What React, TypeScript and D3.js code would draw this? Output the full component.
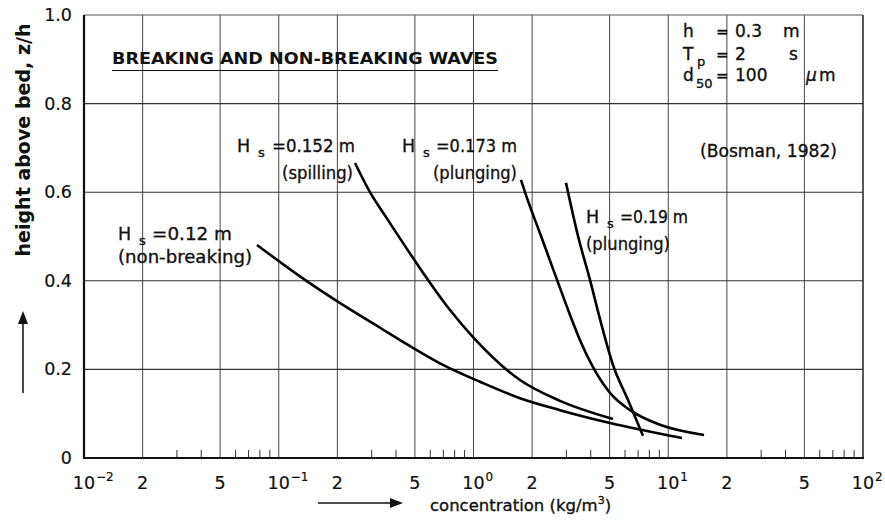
import React from "react";
import * as d3 from "d3";

// ---- data (concentration kg/m3, relative height z/h) ----
const concA = [0.0773, 0.1364, 0.1991, 0.3311, 0.5006, 0.6971, 1.080, 1.733, 2.781, 5.022, 11.77];
const zA = [0.481, 0.402, 0.354, 0.294, 0.246, 0.210, 0.172, 0.135, 0.108, 0.079, 0.045];

const concB = [0.2463, 0.2941, 0.3639, 0.5006, 0.5841, 0.7575, 0.994, 1.733, 2.781, 5.204];
const zB = [0.666, 0.600, 0.537, 0.445, 0.402, 0.334, 0.273, 0.176, 0.129, 0.088];

const concC = [1.753, 1.838, 2.222, 2.685, 3.130, 3.523, 4.108, 5.022, 6.364, 9.07, 15.27];
const zC = [0.628, 0.600, 0.501, 0.402, 0.323, 0.266, 0.205, 0.147, 0.108, 0.075, 0.052];

const concD = [2.985, 3.441, 3.964, 4.515, 5.204, 6.215, 7.419];
const zD = [0.621, 0.501, 0.402, 0.305, 0.210, 0.131, 0.050];

const decadeTicks = [0.01, 0.1, 1, 10, 100];
const decadeExponents = ["\u22122", "\u22121", "0", "1", "2"];
const labeledMinor = [0.02, 0.05, 0.2, 0.5, 2, 5, 20, 50];
const labeledMinorText = ["2", "5", "2", "5", "2", "5", "2", "5"];
const minorMultipliers = [3, 4, 6, 7, 8, 9];
const yTicks = [0, 0.2, 0.4, 0.6, 0.8, 1.0];
const yTickLabels = ["0", "0.2", "0.4", "0.6", "0.8", "1.0"];

const FONT = "'DejaVu Sans', 'Liberation Sans', Arial, sans-serif";
const INK = "#111";

export default function App() {
  const x = d3.scaleLog().domain([0.01, 100]).range([84, 863]);
  const y = d3.scaleLinear().domain([0, 1]).range([458, 15]);

  const line = d3
    .line<[number, number]>()
    .x((d) => x(d[0]))
    .y((d) => y(d[1]))
    .curve(d3.curveMonotoneX);

  const series = [
    [concA, zA],
    [concB, zB],
    [concC, zC],
    [concD, zD],
  ].map(([c, z]) => c.map((v, i) => [v, z[i]] as [number, number]));

  const minorTicks: number[] = [];
  [0.01, 0.1, 1, 10].forEach((d) => minorMultipliers.forEach((m) => minorTicks.push(d * m)));

  const vGrid = [...decadeTicks.slice(1, -1), ...labeledMinor];
  const hGrid = yTicks.slice(1, -1);

  const x0 = x.range()[0];
  const x1 = x.range()[1];
  const yb = y.range()[0];
  const yt = y.range()[1];

  const txt = { fill: INK, stroke: INK, strokeWidth: 0.35 };

  return (
    <svg
      width={885}
      height={522}
      style={{ position: "absolute", left: 0, top: 0, background: "#fff" }}
      fontFamily={FONT}
    >
      <rect x={0} y={0} width={885} height={522} fill="#fff" />
      {/* grid */}
      {vGrid.map((v, i) => (
        <line key={"vg" + i} x1={x(v)} x2={x(v)} y1={yt} y2={yb} stroke="#444" strokeWidth={1} />
      ))}
      {hGrid.map((v, i) => (
        <line key={"hg" + i} x1={x0} x2={x1} y1={y(v)} y2={y(v)} stroke="#333" strokeWidth={1.1} />
      ))}
      {/* minor ticks */}
      {minorTicks.map((v, i) => (
        <line key={"mt" + i} x1={x(v)} x2={x(v)} y1={yb} y2={yb - 8} stroke="#333" strokeWidth={1} />
      ))}
      {/* frame */}
      <line x1={x0} x2={x1} y1={yt} y2={yt} stroke="#555" strokeWidth={1.2} />
      <line x1={x1} x2={x1} y1={yt} y2={yb} stroke="#222" strokeWidth={1.5} />
      <line x1={x0} x2={x0} y1={yt} y2={yb + 1} stroke="#111" strokeWidth={2.2} />
      <line x1={x0 - 1} x2={x1 + 1} y1={yb} y2={yb} stroke="#111" strokeWidth={2.2} />

      {/* curves */}
      {series.map((s, i) => (
        <path key={"c" + i} d={line(s) || ""} fill="none" stroke="#000" strokeWidth={2.6} strokeLinecap="butt" />
      ))}

      {/* y ticks */}
      {yTicks.map((v, i) => (
        <text key={"yt" + i} x={72} y={y(v) + 6} textAnchor="end" fontSize={17.5} {...txt} strokeWidth={0.2}>
          {yTickLabels[i]}
        </text>
      ))}
      {/* x ticks */}
      {decadeTicks.map((v, i) => (
        <g key={"xd" + i}>
          <text x={x(v)} y={489} textAnchor="middle" fontSize={17.5} {...txt} strokeWidth={0.2}>
            10
          </text>
          <text x={x(v) + 12} y={481} fontSize={12} {...txt} strokeWidth={0.2}>
            {decadeExponents[i]}
          </text>
        </g>
      ))}
      {labeledMinor.map((v, i) => (
        <text key={"xm" + i} x={x(v)} y={489} textAnchor="middle" fontSize={17.5} {...txt} strokeWidth={0.2}>
          {labeledMinorText[i]}
        </text>
      ))}

      {/* x axis title */}
      <line x1={318} x2={392} y1={503} y2={503} stroke="#111" strokeWidth={1.5} />
      <polygon points="403,503 390,498 390,508" fill="#111" />
      <text x={430} y={511} fontSize={16.5} {...txt}>
        concentration (kg/m
        <tspan fontSize={11} dy={-7}>3</tspan>
        <tspan dy={7}>)</tspan>
      </text>

      {/* y axis title */}
      <text
        transform="translate(30,140) rotate(-90)"
        textAnchor="middle"
        fontSize={19}
        fontWeight="bold"
        fill={INK}
        textLength={233}
        lengthAdjust="spacingAndGlyphs"
      >
        height above bed, z/h
      </text>
      <line x1={23} x2={23} y1={393} y2={322} stroke="#111" strokeWidth={1.5} />
      <polygon points="23,311 18,324 28,324" fill="#111" />

      {/* title */}
      <text x={112} y={64} fontSize={16} fontWeight="bold" fill={INK} textLength={386} lengthAdjust="spacingAndGlyphs">
        BREAKING  AND  NON-BREAKING  WAVES
      </text>
      <line x1={112} x2={498} y1={70.5} y2={70.5} stroke="#111" strokeWidth={1.2} />

      {/* parameter box */}
      <g fontSize={17} {...txt}>
        <text x={683} y={37}>h</text>
        <text x={716} y={37} fontSize={15}>=</text>
        <text x={735} y={37}>0.3</text>
        <text x={783} y={37}>m</text>

        <text x={683} y={60}>T</text>
        <text x={697} y={66} fontSize={13}>p</text>
        <text x={716} y={60} fontSize={15}>=</text>
        <text x={735} y={60}>2</text>
        <text x={789} y={60}>s</text>

        <text x={683} y={81}>d</text>
        <text x={696} y={88} fontSize={13}>50</text>
        <text x={716} y={81} fontSize={15}>=</text>
        <text x={735} y={81}>100</text>
        <text x={806} y={81} fontStyle="italic">μ</text>
        <text x={819} y={81}>m</text>

        <text x={700} y={157} textLength={137} lengthAdjust="spacingAndGlyphs">(Bosman, 1982)</text>
      </g>

      {/* curve labels */}
      <g fontSize={17.5} {...txt}>
        <text x={118} y={240}>H</text>
        <text x={139} y={245} fontSize={13}>s</text>
        <text x={152} y={240} textLength={80} lengthAdjust="spacingAndGlyphs">=0.12  m</text>
        <text x={118} y={263} textLength={134} lengthAdjust="spacingAndGlyphs">(non-breaking)</text>

        <text x={237} y={152}>H</text>
        <text x={258} y={157} fontSize={13}>s</text>
        <text x={272} y={152} textLength={83} lengthAdjust="spacingAndGlyphs">=0.152  m</text>
        <text x={282} y={179} textLength={71} lengthAdjust="spacingAndGlyphs">(spilling)</text>

        <text x={402} y={152}>H</text>
        <text x={423} y={157} fontSize={13}>s</text>
        <text x={436} y={152} textLength={81} lengthAdjust="spacingAndGlyphs">=0.173  m</text>
        <text x={433} y={179} textLength={84} lengthAdjust="spacingAndGlyphs">(plunging)</text>

        <text x={586} y={223}>H</text>
        <text x={607} y={228} fontSize={13}>s</text>
        <text x={620} y={223} textLength={68} lengthAdjust="spacingAndGlyphs">=0.19  m</text>
        <text x={586} y={250} textLength={84} lengthAdjust="spacingAndGlyphs">(plunging)</text>
      </g>
    </svg>
  );
}
